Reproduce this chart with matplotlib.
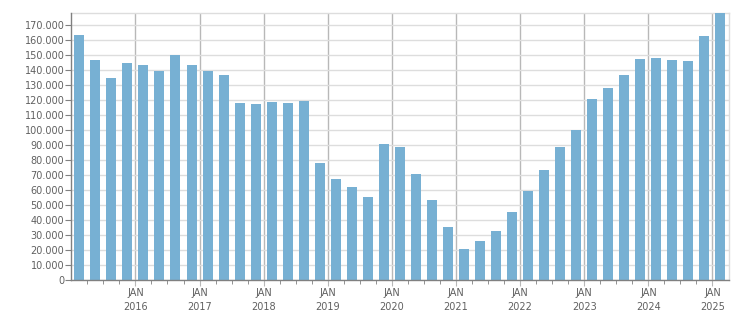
import matplotlib
matplotlib.use("Agg")
import matplotlib.pyplot as plt
from matplotlib.ticker import FixedLocator, FuncFormatter
import numpy as np

# quarterly values, Q1 2015 .. Q1 2025
years = [2015] * 4 + [2016] * 4 + [2017] * 4 + [2018] * 4 + [2019] * 4 + \
        [2020] * 4 + [2021] * 4 + [2022] * 4 + [2023] * 4 + [2024] * 4 + [2025]
quarters = [1, 2, 3, 4] * 10 + [1]
values = [163500, 146700, 134700, 144700,
          143300, 139300, 150000, 143300,
          139300, 136700, 118000, 117300,
          118700, 118000, 119300, 78000,
          67300, 62000, 55300, 90700,
          88700, 70700, 53300, 35300,
          20700, 26000, 32700, 45300,
          59300, 73300, 88700, 100000,
          120700, 128000, 136700, 147300,
          148000, 146700, 146000, 162700,
          179000]
year_labels = ["2016", "2017", "2018", "2019", "2020", "2021", "2022", "2023", "2024", "2025"]

bar_color = "#77b0d3"
text_color = "#606060"

x = np.array(years) + (np.array(quarters) - 1) / 4 + 0.125

fig = plt.figure(figsize=(7.51, 3.13), dpi=100)
ax = fig.add_axes([71.3 / 751, 1 - 280 / 313, (728.5 - 71.3) / 751, (280 - 13.3) / 313])

ax.bar(x, values, width=0.156, color=bar_color, zorder=3)

ax.set_xlim(2015, 2025.25)
ax.set_ylim(0, 178000)

# y axis
ax.set_yticks(np.arange(0, 170001, 10000))
ax.yaxis.set_major_formatter(FuncFormatter(lambda v, p: "{:,.0f}".format(v).replace(",", ".")))
ax.grid(axis="y", color="#dddddd", linewidth=1, zorder=0)

# x axis: years major, quarters minor
major = [int(y) for y in year_labels]
ax.xaxis.set_major_locator(FixedLocator(major))
ax.xaxis.set_minor_locator(FixedLocator([2015 + q / 4 for q in range(1, 41) if q % 4 != 0]))
ax.set_xticklabels(["JAN\n" + y for y in year_labels])
for xv in major:
    ax.axvline(xv, color="#b8b8b8", linewidth=1, zorder=1)

ax.tick_params(axis="x", which="major", length=4, color="#b8b8b8", labelsize=7, labelcolor=text_color, pad=2)
ax.tick_params(axis="x", which="minor", length=3, color="#808080")
ax.tick_params(axis="y", length=4, color="#808080", labelsize=7, labelcolor=text_color, pad=1)
for lbl in ax.get_xticklabels():
    lbl.set_linespacing(1.5)

for s in ["left", "bottom"]:
    ax.spines[s].set_color("#808080")
    ax.spines[s].set_linewidth(1)
    ax.spines[s].set_zorder(4)
for s in ["top", "right"]:
    ax.spines[s].set_color("#dddddd")
    ax.spines[s].set_linewidth(1)

fig.savefig("out.png", dpi=100)
